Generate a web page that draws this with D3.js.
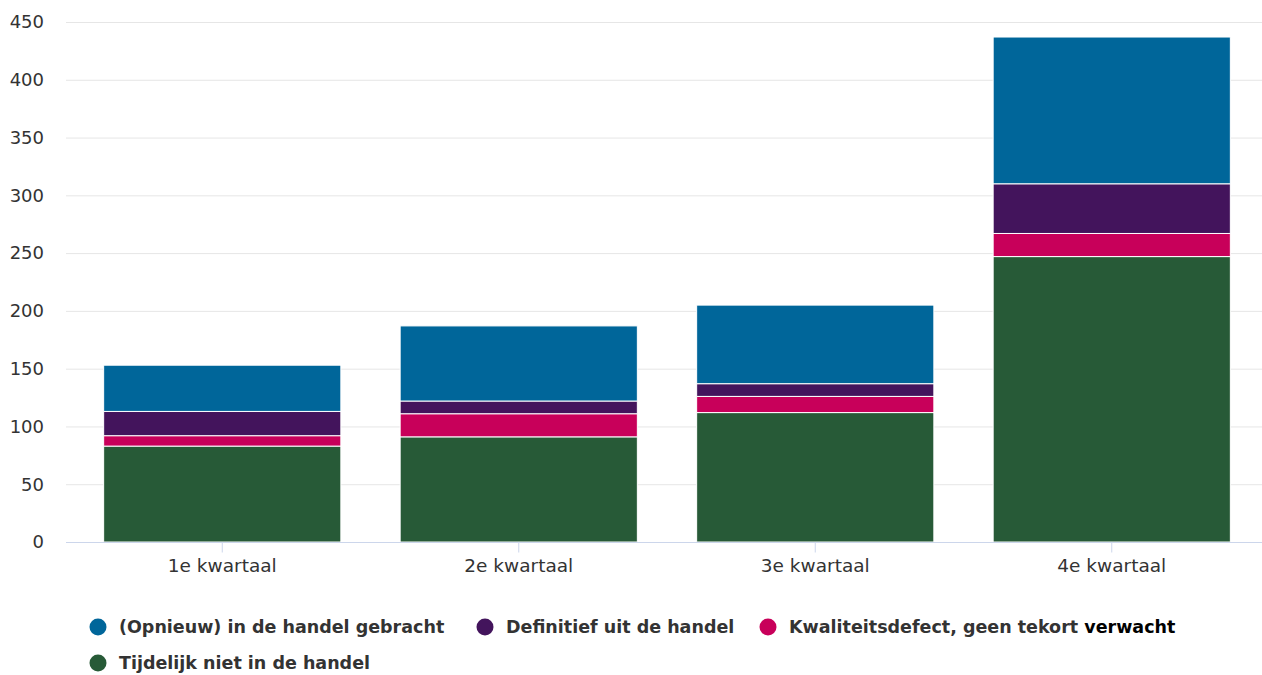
<!DOCTYPE html>
<html>
<head>
<meta charset="utf-8">
<script src="https://cdn.jsdelivr.net/npm/d3@7"></script>
<style>
	body { margin: 0; background: #fff; }
	svg { display: block; font-family: "DejaVu Sans", sans-serif; }
</style>
</head>
<body>
<svg id="chart"></svg>
<script>
const width = 1262
const height = 675

const categories = ["1e kwartaal", "2e kwartaal", "3e kwartaal", "4e kwartaal"]
const seriesNames = [
	"Tijdelijk niet in de handel",
	"Kwaliteitsdefect, geen tekort verwacht",
	"Definitief uit de handel",
	"(Opnieuw) in de handel gebracht"
]
const tijdelijk = [83, 91, 112, 247]
const kwaliteit = [9, 20, 14, 20]
const definitief = [21, 11, 11, 43]
const opnieuw = [40, 65, 68, 127]
const yTicks = [0, 50, 100, 150, 200, 250, 300, 350, 400, 450]
const colors = ["#275a37", "#c8005a", "#43145c", "#00669a"]

// legend order as in the picture
const legendOrder = [3, 2, 1, 0]

const seriesValues = [tijdelijk, kwaliteit, definitief, opnieuw]

const rows = categories.map((c, i) => {
	const row = { category: c }
	seriesNames.forEach((s, j) => { row[s] = seriesValues[j][i] })
	return row
})

const stacked = d3.stack().keys(seriesNames)(rows)

const svg = d3.select("#chart")
	.attr("width", width)
	.attr("height", height)

const plotLeft = 66
const plotRight = 1262

const x = d3.scaleBand()
	.domain(categories)
	.range([74, 1260])
	.paddingInner(0.2)
	.paddingOuter(0.1)

const y = d3.scaleLinear()
	.domain([0, 450])
	.range([542, 22])

// Grid lines
svg.append("g")
	.selectAll("line")
	.data(yTicks.slice(1))
	.enter().append("line")
	.attr("x1", plotLeft)
	.attr("x2", plotRight)
	.attr("y1", d => y(d) + 0.5)
	.attr("y2", d => y(d) + 0.5)
	.style("stroke", "#e6e6e6")
	.style("stroke-width", 1)

// Y labels
svg.append("g")
	.selectAll("text")
	.data(yTicks)
	.enter().append("text")
	.attr("x", 44)
	.attr("y", d => y(d))
	.attr("dy", "0.35em")
	.attr("text-anchor", "end")
	.style("font-size", "18px")
	.style("fill", "#333")
	.text(d => d)

// Bars
svg.append("g")
	.selectAll("g")
	.data(stacked)
	.enter().append("g")
	.style("fill", (d, i) => colors[i])
	.selectAll("rect")
	.data(d => d)
	.enter().append("rect")
	.attr("x", d => x(d.data.category))
	.attr("y", d => y(d[1]))
	.attr("width", x.bandwidth())
	.attr("height", d => y(d[0]) - y(d[1]))
	.style("stroke", "#fff")
	.style("stroke-width", 1)

// X axis
const xAxis = d3.axisBottom(x).tickSize(10).tickPadding(6)
const gx = svg.append("g")
	.attr("transform", "translate(0,542.5)")
	.call(xAxis)
gx.select(".domain").remove()
gx.selectAll(".tick line").style("stroke", "#ccd6eb")
gx.selectAll(".tick text")
	.style("font-size", "18.5px")
	.style("fill", "#333")
	.style("font-family", "DejaVu Sans, sans-serif")
	.attr("y", 16)
svg.append("line")
	.attr("x1", plotLeft)
	.attr("x2", plotRight)
	.attr("y1", 542.5)
	.attr("y2", 542.5)
	.style("stroke", "#ccd6eb")

// Legend
const legendPos = [
	{ x: 98, y: 627 },
	{ x: 485, y: 627 },
	{ x: 768, y: 627 },
	{ x: 98, y: 663 }
]
const legend = svg.append("g")
	.selectAll("g")
	.data(legendOrder)
	.enter().append("g")
	.attr("transform", (d, i) => `translate(${legendPos[i].x},${legendPos[i].y})`)

legend.append("circle")
	.attr("r", 8.5)
	.style("fill", d => colors[d])

const legendText = legend.append("text")
	.attr("x", 21)
	.attr("dy", "0.35em")
	.style("font-size", "17.5px")
	.style("font-weight", "bold")
	.style("fill", "#333")

// last word of the long label is drawn darker in the original
legendText.each(function(d) {
	const t = d3.select(this)
	const name = seriesNames[d]
	if (d === 1) {
		const cut = name.lastIndexOf(" ")
		t.append("tspan").text(name.slice(0, cut + 1))
		t.append("tspan").style("fill", "#000").text(name.slice(cut + 1))
	} else {
		t.text(name)
	}
})
</script>
</body>
</html>
